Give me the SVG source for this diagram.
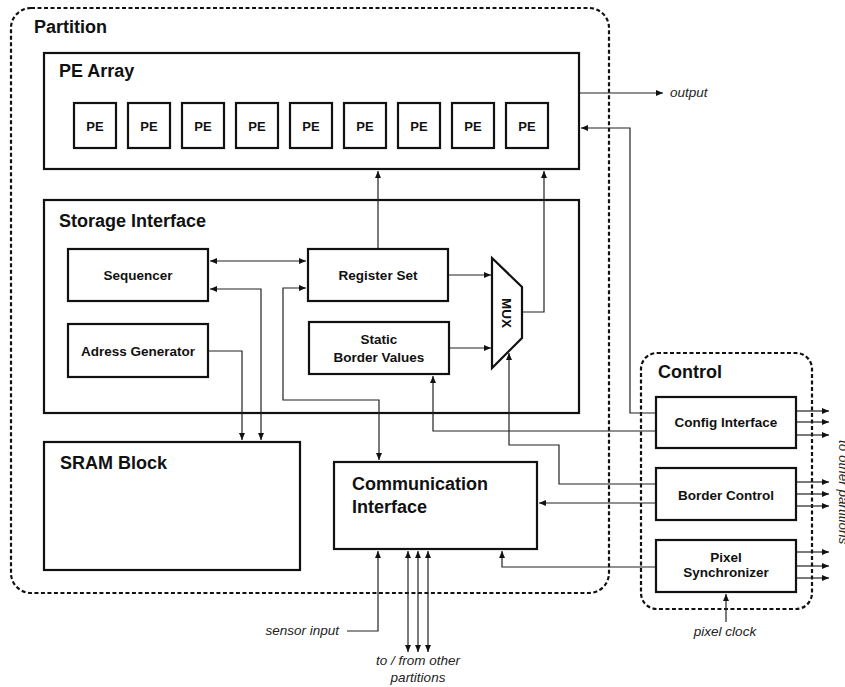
<svg xmlns="http://www.w3.org/2000/svg" width="845" height="687" viewBox="0 0 845 687">
  <defs>
    <marker id="arr" markerUnits="userSpaceOnUse" markerWidth="8" markerHeight="6" refX="7" refY="3" orient="auto-start-reverse">
      <path d="M0,0 L7,3 L0,6 z" fill="#111"/>
    </marker>
    <style>
      .region { fill: none; stroke: #111; stroke-width: 2.2; stroke-dasharray: 4 2.5; }
      .box { fill: #fff; stroke: #111; stroke-width: 2.2; }
      .wire { fill: none; stroke: #222; stroke-width: 1.2; }
      .one { marker-end: url(#arr); }
      .two { marker-start: url(#arr); marker-end: url(#arr); }
      .title { font-family: "Liberation Sans", Arial, sans-serif; font-weight: bold; font-size: 18px; fill: #111; }
      .lbl { font-family: "Liberation Sans", Arial, sans-serif; font-weight: bold; font-size: 13.5px; fill: #111; text-anchor: middle; }
      .pe { font-family: "Liberation Sans", Arial, sans-serif; font-weight: bold; font-size: 13px; fill: #111; text-anchor: middle; }
      .note { font-family: "Liberation Sans", Arial, sans-serif; font-style: italic; font-size: 13.5px; fill: #222; }
    </style>
  </defs>

  <!-- enclosing regions -->
  <g id="partition">
    <rect class="region" x="11" y="8" width="598" height="585" rx="20"/>
    <text class="title" x="34" y="33">Partition</text>
  </g>
  <g id="control">
    <rect class="region" x="641" y="353" width="171" height="256" rx="16"/>
    <text class="title" x="658" y="378">Control</text>
  </g>

  <!-- PE array with nine processing elements -->
  <g id="pe-array">
    <rect class="box" x="44" y="53" width="535" height="116"/>
    <text class="title" x="59" y="77">PE Array</text>
    <g id="pe-cells">
      <rect class="box" x="74" y="103" width="42" height="45"/><text class="pe" x="95" y="130.5">PE</text>
      <rect class="box" x="128" y="103" width="42" height="45"/><text class="pe" x="149" y="130.5">PE</text>
      <rect class="box" x="182" y="103" width="42" height="45"/><text class="pe" x="203" y="130.5">PE</text>
      <rect class="box" x="236" y="103" width="42" height="45"/><text class="pe" x="257" y="130.5">PE</text>
      <rect class="box" x="290" y="103" width="42" height="45"/><text class="pe" x="311" y="130.5">PE</text>
      <rect class="box" x="344" y="103" width="42" height="45"/><text class="pe" x="365" y="130.5">PE</text>
      <rect class="box" x="398" y="103" width="42" height="45"/><text class="pe" x="419" y="130.5">PE</text>
      <rect class="box" x="452" y="103" width="42" height="45"/><text class="pe" x="473" y="130.5">PE</text>
      <rect class="box" x="506" y="103" width="42" height="45"/><text class="pe" x="527" y="130.5">PE</text>
    </g>
  </g>

  <!-- storage interface -->
  <g id="storage-interface">
    <rect class="box" x="44" y="200" width="535" height="213"/>
    <text class="title" x="59" y="227">Storage Interface</text>
  </g>
  <g id="sequencer">
    <rect class="box" x="68" y="249" width="140" height="52"/>
    <text class="lbl" x="138" y="280">Sequencer</text>
  </g>
  <g id="address-generator">
    <rect class="box" x="68" y="324" width="140" height="53"/>
    <text class="lbl" x="138" y="356">Adress Generator</text>
  </g>
  <g id="register-set">
    <rect class="box" x="308" y="249" width="140" height="52"/>
    <text class="lbl" x="378" y="280">Register Set</text>
  </g>
  <g id="static-border-values">
    <rect class="box" x="309" y="322" width="140" height="52"/>
    <text class="lbl" x="379" y="344">Static</text>
    <text class="lbl" x="379" y="362">Border Values</text>
  </g>
  <g id="mux">
    <polygon class="box" points="492,258 522,287 522,338 492,368"/>
    <text class="lbl" transform="translate(502,313) rotate(90)">MUX</text>
  </g>

  <g id="sram-block">
    <rect class="box" x="44" y="442" width="256" height="128"/>
    <text class="title" x="60" y="469">SRAM Block</text>
  </g>
  <g id="communication-interface">
    <rect class="box" x="334" y="462" width="203" height="87"/>
    <text class="title" x="352" y="490">Communication</text>
    <text class="title" x="352" y="513">Interface</text>
  </g>

  <!-- control blocks -->
  <g id="config-interface">
    <rect class="box" x="656" y="397" width="140" height="51"/>
    <text class="lbl" x="726" y="427">Config Interface</text>
  </g>
  <g id="border-control">
    <rect class="box" x="656" y="468" width="140" height="52"/>
    <text class="lbl" x="726" y="500">Border Control</text>
  </g>
  <g id="pixel-synchronizer">
    <rect class="box" x="656" y="540" width="140" height="52"/>
    <text class="lbl" x="726" y="562">Pixel</text>
    <text class="lbl" x="726" y="577">Synchronizer</text>
  </g>

  <!-- connectors -->
  <g id="connectors">
    <path class="wire one" d="M580,93 H663"/>
    <path class="wire one" d="M655,413 H630 V128 H581"/>
    <path class="wire one" d="M378,248 V171"/>
    <path class="wire one" d="M523,312 H544 V171"/>
    <path class="wire two" d="M210,261 H306"/>
    <path class="wire two" d="M210,289 H261 V440"/>
    <path class="wire one" d="M209,351 H242 V440"/>
    <path class="wire two" d="M306,288 H283 V400 H379 V460"/>
    <path class="wire one" d="M449,275 H491"/>
    <path class="wire one" d="M450,348 H491"/>
    <path class="wire one" d="M655,431 H433 V376"/>
    <path class="wire one" d="M655,484 H559 V445 H509 V353"/>
    <path class="wire one" d="M655,503 H539"/>
    <path class="wire one" d="M655,567 H502 V551"/>
    <path class="wire one" d="M347,631 H378 V551"/>
    <path class="wire two" d="M408,551 V652"/>
    <path class="wire two" d="M418,551 V652"/>
    <path class="wire two" d="M428,551 V652"/>
    <path class="wire one" d="M726,622 V594"/>
    <!-- outputs to other partitions -->
    <path class="wire one" d="M797,411 H829"/>
    <path class="wire one" d="M797,422 H829"/>
    <path class="wire one" d="M797,435 H829"/>
    <path class="wire one" d="M797,482 H829"/>
    <path class="wire one" d="M797,494 H829"/>
    <path class="wire one" d="M797,506 H829"/>
    <path class="wire one" d="M797,552 H829"/>
    <path class="wire one" d="M797,566 H829"/>
    <path class="wire one" d="M797,578 H829"/>
  </g>

  <!-- external signal labels -->
  <g id="labels">
    <text class="note" x="670" y="97">output</text>
    <text class="note" x="339" y="635" text-anchor="end">sensor input</text>
    <text class="note" x="418" y="665" text-anchor="middle">to / from other</text>
    <text class="note" x="418" y="682" text-anchor="middle">partitions</text>
    <text class="note" x="725" y="636" text-anchor="middle">pixel clock</text>
    <text class="note" transform="translate(839,440) rotate(90)">to other partitions</text>
  </g>
</svg>
